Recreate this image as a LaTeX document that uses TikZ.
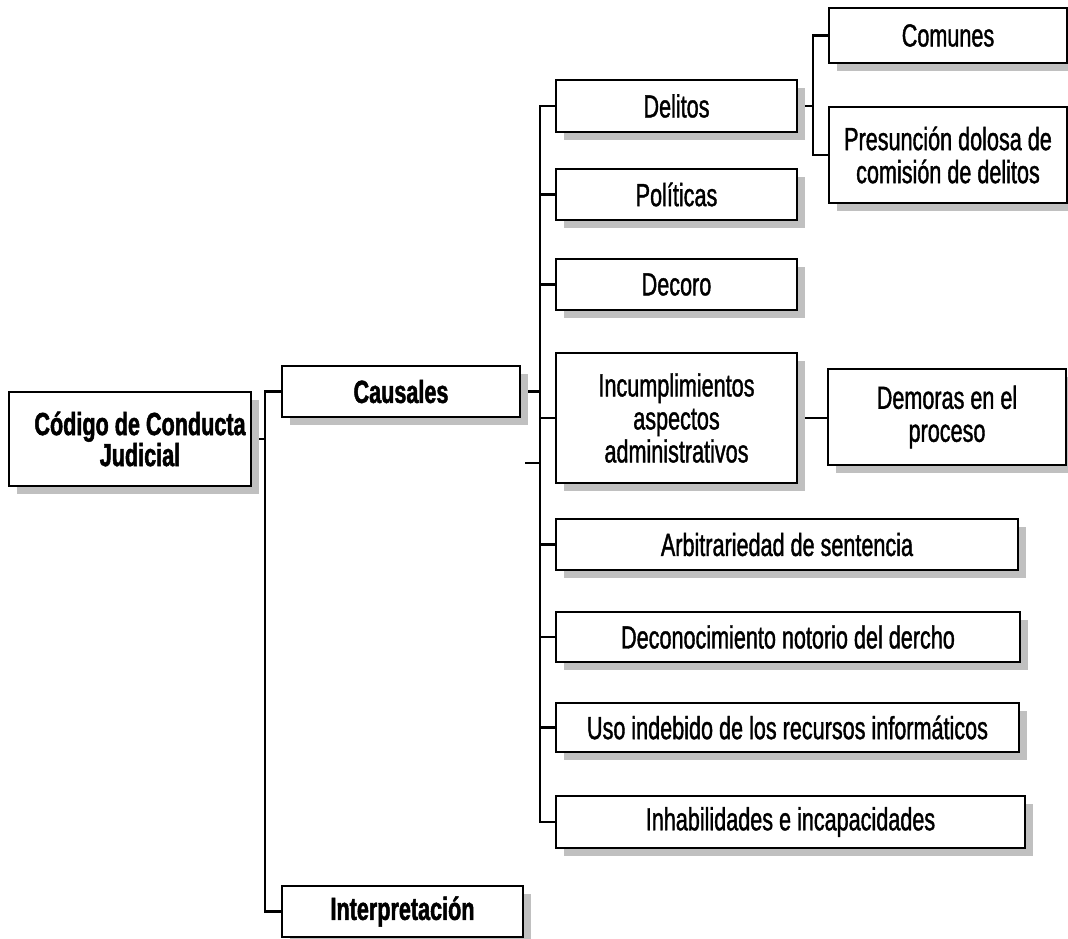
\documentclass[tikz,border=0pt]{standalone}
\usepackage{fontspec}
\setmainfont{Liberation Sans}[FakeStretch=0.675, UprightFeatures={FakeBold=1.2}, BoldFeatures={FakeBold=1.5}]
\usetikzlibrary{shadows,backgrounds}
\definecolor{shadowgray}{HTML}{C0C0C0}
\tikzset{
  box/.style={draw=black, line width=2.5pt, fill=white, inner sep=0pt, align=center,
    font=\fontsize{32}{33}\selectfont,
    drop shadow={opacity=1, fill=shadowgray, shadow xshift=8pt, shadow yshift=-8pt}},
  boldbox/.style={box, font=\fontsize{32}{33}\selectfont\bfseries},
  conn/.style={draw=black, line width=2.5pt},
}
\begin{document}
\begin{tikzpicture}[x=1pt, y=-1pt]
\useasboundingbox (0,0) rectangle (1068,939);

% level 0 and 1
\node[boldbox, minimum width=242pt, minimum height=94pt] (root) at (130,439) {};
\begin{scope}
  \clip (9,392) rectangle (251,486);
  \node[align=center, font=\fontsize{32}{31}\selectfont\bfseries] (roottxt) at (140,439) {Código de Conducta\\Judicial};
\end{scope}
\node[boldbox, minimum width=238pt, minimum height=51pt] (causales) at (401,391.5) {Causales};
\node[boldbox, minimum width=241pt, minimum height=51pt] (interp) at (402.5,911.5) {Interpretación};

% level 2
\node[box, minimum width=241pt, minimum height=52pt] (delitos) at (676.5,106) {Delitos};
\node[box, minimum width=241pt, minimum height=51pt] (politicas) at (676.5,194.5) {Políticas};
\node[box, minimum width=241pt, minimum height=51pt] (decoro) at (676.5,284.5) {Decoro};
\node[box, minimum width=241pt, minimum height=130pt] (incump) at (676.5,418) {Incumplimientos\\aspectos\\administrativos};
\node[box, minimum width=462pt, minimum height=51pt] (arbit) at (787,544.5) {Arbitrariedad de sentencia};
\node[box, minimum width=464pt, minimum height=50pt] (decon) at (788,637) {Deconocimiento notorio del dercho};
\node[box, minimum width=463pt, minimum height=49pt] (uso) at (787.5,727.5) {Uso indebido de los recursos informáticos};
\node[box, minimum width=469pt, minimum height=52pt] (inhab) at (790.5,822) {Inhabilidades e incapacidades};

% level 3
\node[box, minimum width=238pt, minimum height=55pt] (comunes) at (948,35.5) {Comunes};
\node[box, minimum width=238pt, minimum height=96pt] (presun) at (948,155) {Presunción dolosa de\\comisión de delitos};
\node[box, minimum width=238pt, minimum height=96pt] (demoras) at (947,417) {Demoras en el\\proceso};

\begin{pgfonlayer}{background}
  \coordinate (bus1) at (265,439);
  \coordinate (bus2) at (540,391.5);
  \coordinate (bus3) at (813,106);
  \coordinate (stubA) at (525,463);
  % root
  \draw[conn] (root.east) -- (bus1);
  \draw[conn] (causales.west) -| (bus1);
  \draw[conn] (interp.west) -| (bus1);
  % causales
  \draw[conn] (causales.east) -- (bus2);
  \draw[conn] (delitos.west) -| (bus2);
  \draw[conn] (inhab.west) -| (bus2);
  \draw[conn] (politicas.west) -- (politicas.west -| bus2);
  \draw[conn] (decoro.west) -- (decoro.west -| bus2);
  \draw[conn] (incump.west) -- (incump.west -| bus2);
  \draw[conn] (arbit.west) -- (arbit.west -| bus2);
  \draw[conn] (decon.west) -- (decon.west -| bus2);
  \draw[conn] (uso.west) -- (uso.west -| bus2);
  \draw[conn] (stubA) -- (stubA -| bus2);
  % delitos
  \draw[conn] (delitos.east) -- (bus3);
  \draw[conn] (comunes.west) -| (bus3);
  \draw[conn] (presun.west) -| (bus3);
  % incumplimientos
  \draw[conn] (incump.east) -- (incump.east -| demoras.west);
\end{pgfonlayer}
\end{tikzpicture}
\end{document}
